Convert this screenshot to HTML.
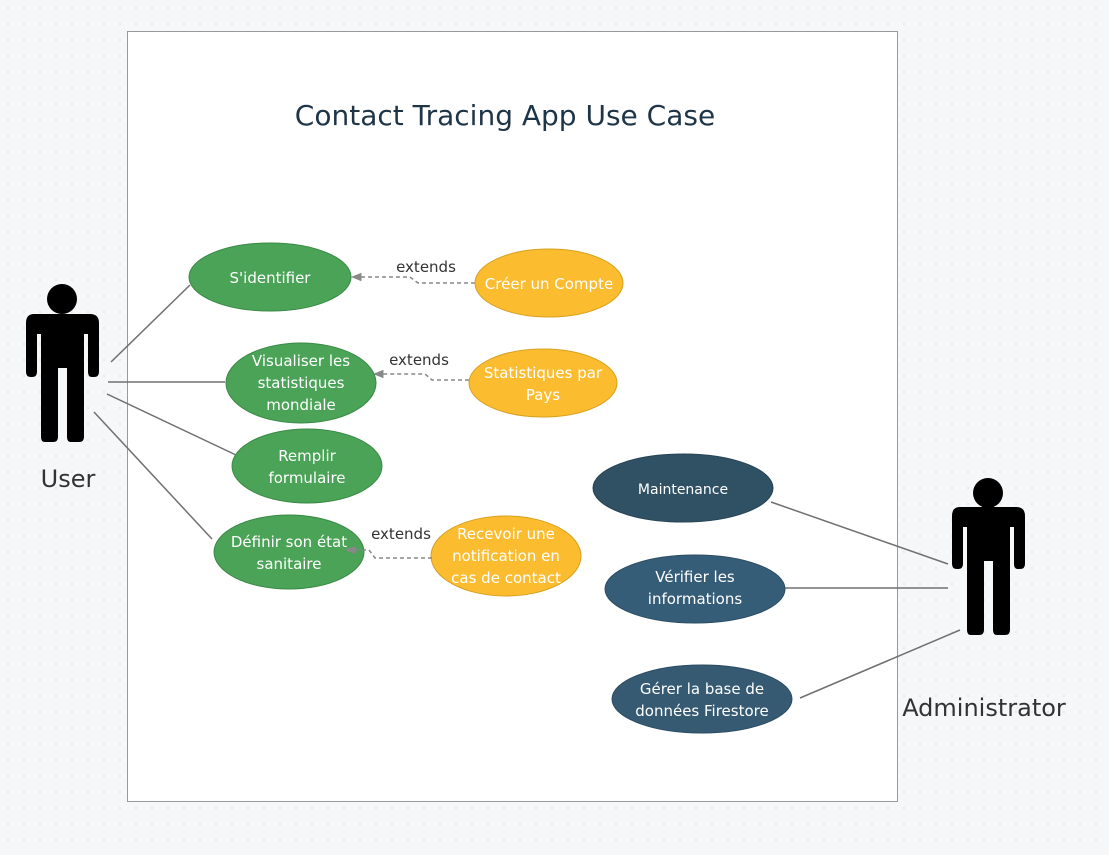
<!DOCTYPE html>
<html><head><meta charset="utf-8"><style>
html,body{margin:0;padding:0;width:1109px;height:855px;overflow:hidden;background:#f6f7f9;}
svg{display:block}
text{font-family:"DejaVu Sans","Liberation Sans",sans-serif;}
</style></head><body>
<svg width="1109" height="855" viewBox="0 0 1109 855" xmlns="http://www.w3.org/2000/svg">
<defs>
<pattern id="dots" width="16" height="16" patternUnits="userSpaceOnUse"><circle cx="8" cy="8" r="0.9" fill="#dcdfe4"/></pattern>
<marker id="ah" viewBox="0 0 10 10" refX="9" refY="5" markerWidth="7" markerHeight="7" orient="auto"><path d="M0,1 L10,5 L0,9 z" fill="#888"/></marker>
</defs>
<rect width="1109" height="855" fill="#f6f7f9"/>
<rect width="1109" height="855" fill="url(#dots)"/>
<rect x="127.5" y="31.5" width="770" height="770" fill="#fff" stroke="#999" stroke-width="1"/>
<text x="505" y="125" font-size="28" fill="#1e3447" text-anchor="middle">Contact Tracing App Use Case</text>

<g stroke="#707070" stroke-width="1.5" fill="none">
<line x1="111" y1="362" x2="190" y2="285"/>
<line x1="108" y1="382" x2="225" y2="382"/>
<line x1="107" y1="394" x2="236" y2="455"/>
<line x1="94" y1="412" x2="212" y2="539"/>
<line x1="771" y1="502" x2="948" y2="564"/>
<line x1="785" y1="588" x2="948" y2="588"/>
<line x1="800" y1="698" x2="960" y2="630"/>
</g>
<g stroke="#888" stroke-width="1.5" fill="none" stroke-dasharray="4,3">
<path d="M475,283 L418,283 L410,277 L352,277" marker-end="url(#ah)"/>
<path d="M469,380 L432,380 L425,374 L374,374" marker-end="url(#ah)"/>
</g>
<g font-size="15" fill="#333">
<text x="426" y="272" text-anchor="middle">extends</text>
<text x="419" y="365" text-anchor="middle">extends</text>
<text x="401" y="539" text-anchor="middle">extends</text>
</g>

<g fill="#4aa356" stroke="#3a8a46" stroke-width="1">
<ellipse cx="270" cy="277" rx="81" ry="34"/>
<ellipse cx="301" cy="383" rx="75" ry="40"/>
<ellipse cx="307" cy="466" rx="75" ry="37"/>
<ellipse cx="289" cy="552" rx="75" ry="37"/>
</g>
<g fill="#fbbc30" stroke="#d9a020" stroke-width="1">
<ellipse cx="549" cy="283" rx="74" ry="34"/>
<ellipse cx="543" cy="383" rx="74" ry="34"/>
<ellipse cx="506" cy="556" rx="75" ry="40"/>
</g>
<path d="M432,558 L375,558 L369,550 L346,550" stroke="#888" stroke-width="1.5" fill="none" stroke-dasharray="4,3" marker-end="url(#ah)"/>
<ellipse cx="683" cy="488" rx="90" ry="34" fill="#2f5163" stroke="#264454"/>
<ellipse cx="695" cy="589" rx="90" ry="34" fill="#365d78" stroke="#2b4d64"/>
<ellipse cx="702" cy="699" rx="90" ry="34" fill="#355a72" stroke="#2b4d64"/>

<g font-size="15" fill="#fff" text-anchor="middle">
<text x="270" y="283">S'identifier</text>
<text x="549" y="289">Créer un Compte</text>
<text x="301" y="366">Visualiser les</text>
<text x="301" y="388">statistiques</text>
<text x="301" y="410">mondiale</text>
<text x="543" y="378">Statistiques par</text>
<text x="543" y="400">Pays</text>
<text x="307" y="461">Remplir</text>
<text x="307" y="483">formulaire</text>
<text x="289" y="547">Définir son état</text>
<text x="289" y="569">sanitaire</text>
<text x="506" y="539">Recevoir une</text>
<text x="506" y="561">notification en</text>
<text x="506" y="583">cas de contact</text>
<text x="683" y="494" font-size="14">Maintenance</text>
<text x="695" y="582">Vérifier les</text>
<text x="695" y="604">informations</text>
<text x="702" y="694">Gérer la base de</text>
<text x="702" y="716">données Firestore</text>
</g>

<g fill="#000">
<circle cx="62" cy="299" r="15"/>
<path d="M34,314 H90 Q99,314 99,323 V372 Q99,377 94,377 H92 Q88,377 88,372 V334 H84 V437 Q84,442 79,442 H71 Q67,442 67,437 V368 H58 V437 Q58,442 53,442 H45 Q41,442 41,437 V334 H37 V372 Q37,377 32,377 H31 Q26,377 26,372 V323 Q26,314 34,314 Z"/>
</g>
<text x="68" y="487" font-size="24" fill="#333" text-anchor="middle">User</text>

<g fill="#000">
<circle cx="988" cy="493" r="15"/>
<path d="M960,507 H1016 Q1025,507 1025,516 V564 Q1025,569 1020,569 H1018 Q1014,569 1014,564 V527 H1010 V630 Q1010,635 1005,635 H997 Q993,635 993,630 V561 H984 V630 Q984,635 979,635 H971 Q967,635 967,630 V527 H963 V564 Q963,569 958,569 H957 Q952,569 952,564 V516 Q952,507 960,507 Z"/>
</g>
<text x="984" y="716" font-size="24" fill="#333" text-anchor="middle">Administrator</text>
</svg>
</body></html>
